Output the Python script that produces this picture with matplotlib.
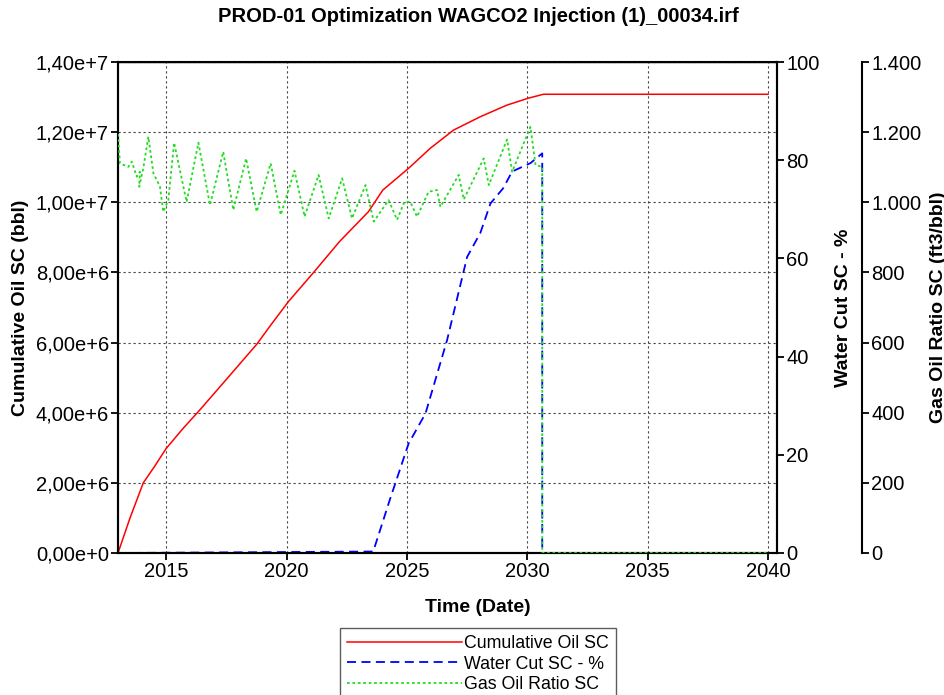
import matplotlib
matplotlib.use("Agg")
import matplotlib.pyplot as plt
from matplotlib.ticker import FixedLocator, FixedFormatter

plt.rcParams['font.family'] = ['Liberation Sans', 'DejaVu Sans']

title = "PROD-01 Optimization WAGCO2 Injection (1)_00034.irf"

# Cumulative oil (bbl)
oil_t = [2013.0, 2013.5, 2014.05, 2014.5, 2015.0, 2015.7, 2016.4, 2017.5, 2018.76,
         2019.4, 2020.08, 2021.1, 2022.2, 2023.4, 2024.0, 2025.07, 2025.97,
         2026.94, 2028.05, 2029.15, 2030.05, 2030.67, 2040.0]
oil_v = [0.0, 1.0e6, 2.0e6, 2.45e6, 2.98e6, 3.55e6, 4.08e6, 4.95e6, 5.95e6,
         6.55e6, 7.17e6, 7.98e6, 8.88e6, 9.73e6, 10.35e6, 10.97e6, 11.54e6,
         12.06e6, 12.44e6, 12.77e6, 12.97e6, 13.08e6, 13.08e6]

# Water cut (%)
wc_t = [2013.0, 2023.6, 2024.3, 2025.07, 2025.77, 2026.67, 2027.5, 2028.05, 2028.47,
        2029.0, 2029.37, 2030.13, 2030.62, 2030.62, 2040.0]
wc_v = [0.0, 0.3, 11.0, 22.3, 28.4, 43.4, 60.3, 65.2, 71.2,
        74.3, 77.7, 79.4, 81.4, 0.0, 0.0]

# Gas oil ratio (ft3/bbl)
gor_t = [2013.0, 2013.08, 2013.43, 2013.57, 2013.78, 2013.91, 2013.88, 2014.05, 2014.26,
         2014.47, 2014.74, 2014.88, 2015.09, 2015.33, 2015.85, 2016.34, 2016.82,
         2017.37, 2017.79, 2018.32, 2018.76, 2019.34, 2019.76, 2020.33, 2020.75,
         2021.33, 2021.75, 2022.31, 2022.72, 2023.28, 2023.62, 2024.24, 2024.59,
         2024.9, 2025.14, 2025.42, 2025.9, 2026.25, 2026.39, 2027.15, 2027.36,
         2028.19, 2028.4, 2029.16, 2029.37, 2030.13, 2030.34, 2030.62, 2030.62, 2040.0]
gor_v = [1195, 1111, 1101, 1116, 1073, 1087, 1044, 1097, 1187,
         1083, 1045, 973, 1006, 1170, 1001, 1170, 992,
         1144, 978, 1125, 973, 1111, 964, 1090, 959,
         1078, 954, 1068, 954, 1049, 945, 1006, 950,
         1002, 1001, 959, 1030, 1035, 987, 1078, 1008,
         1125, 1049, 1179, 1087, 1215, 1106, 1101, 0, 0]

x_ticks = [2015, 2020, 2025, 2030, 2035, 2040]
x_labels = ["2015", "2020", "2025", "2030", "2035", "2040"]
oil_ticks = [0, 2e6, 4e6, 6e6, 8e6, 10e6, 12e6, 14e6]
oil_labels = ["0,00e+0", "2,00e+6", "4,00e+6", "6,00e+6", "8,00e+6", "1,00e+7", "1,20e+7", "1,40e+7"]
wc_ticks = [0, 20, 40, 60, 80, 100]
wc_labels = ["0", "20", "40", "60", "80", "100"]
gor_ticks = [0, 200, 400, 600, 800, 1000, 1200, 1400]
gor_labels = ["0", "200", "400", "600", "800", "1.000", "1.200", "1.400"]

fig = plt.figure(figsize=(9.45, 6.95), dpi=100)
ax = fig.add_axes([118/945, 1-553/695, 659/945, 491/695])
ax2 = ax.twinx()
ax3 = ax.twinx()
ax3.spines['right'].set_position(('axes', (862-118)/659))

ax.set_xlim(2013.0, 2040.37)
ax.set_ylim(0, 14e6)
ax2.set_ylim(0, 100)
ax3.set_ylim(0, 1400)

red, = ax.plot(oil_t, oil_v, color='#ff0000', lw=1.1, label='Cumulative Oil SC')
blue, = ax2.plot(wc_t, wc_v, color='#0000ff', lw=1.3, ls=(0, (5, 3)), label='Water Cut SC - %')
green, = ax3.plot(gor_t, gor_v, color='#22dd22', lw=1.3, ls=(0, (1.5, 1.5)), label='Gas Oil Ratio SC')

ax.xaxis.set_major_locator(FixedLocator(x_ticks))
ax.xaxis.set_major_formatter(FixedFormatter(x_labels))
ax.yaxis.set_major_locator(FixedLocator(oil_ticks))
ax.yaxis.set_major_formatter(FixedFormatter(oil_labels))
ax2.yaxis.set_major_locator(FixedLocator(wc_ticks))
ax2.yaxis.set_major_formatter(FixedFormatter(wc_labels))
ax3.yaxis.set_major_locator(FixedLocator(gor_ticks))
ax3.yaxis.set_major_formatter(FixedFormatter(gor_labels))

ax.grid(True, color='#444444', ls=(0, (2, 2.5)), lw=0.8)

for a in (ax, ax2, ax3):
    a.tick_params(labelsize=14.5, length=5, width=1.3, direction='out', colors='black', pad=1.5)
    for s in a.spines.values():
        s.set_linewidth(1.5)
ax.spines['top'].set_linewidth(1.0)
ax3.spines['top'].set_visible(False)
ax3.spines['bottom'].set_visible(False)
ax3.spines['left'].set_visible(False)

ax.set_xlabel('Time (Date)', fontsize=14, fontweight='bold')
ax.xaxis.set_label_coords((478-118)/659, -(607-553)/491)
ax.xaxis.label.set_va('center')
ax.set_ylabel('Cumulative Oil SC (bbl)', fontsize=14, fontweight='bold', labelpad=5)
ax2.set_ylabel('Water Cut SC - %', fontsize=14, fontweight='bold', labelpad=11)
ax3.set_ylabel('Gas Oil Ratio SC (ft3/bbl)', fontsize=14, fontweight='bold', labelpad=6)

fig.text(478/945, 1-17/695, title, ha='center', va='center', fontsize=14.5, fontweight='bold')

leg = fig.legend(handles=[red, blue, green], loc='upper center',
                 bbox_to_anchor=(478/945, 1-628/695), fontsize=12.8,
                 handlelength=6.5, handletextpad=0.12, labelspacing=0.2,
                 borderpad=0.4, frameon=True, fancybox=False, borderaxespad=0)
leg.get_frame().set_edgecolor('#333333')
leg.get_frame().set_linewidth(1.0)

fig.savefig('out.png', dpi=100)
